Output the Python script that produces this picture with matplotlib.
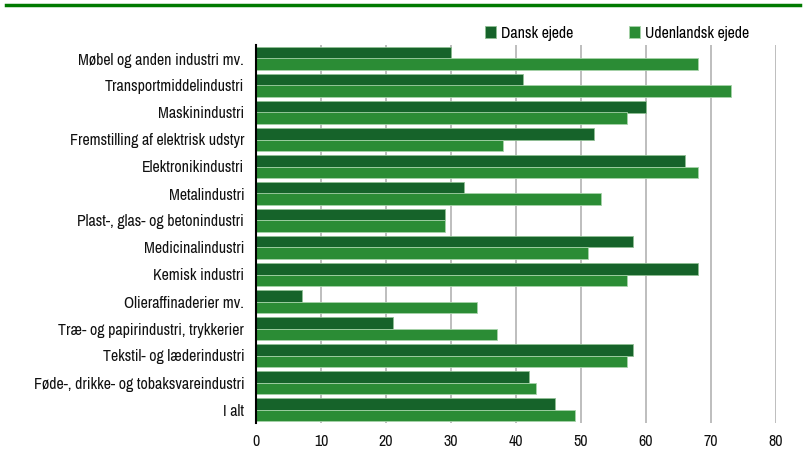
import matplotlib
matplotlib.use("Agg")
import matplotlib.pyplot as plt
import numpy as np
from matplotlib.lines import Line2D
from matplotlib.font_manager import fontManager, FontProperties
from matplotlib.textpath import TextPath

# Data (top to bottom as shown)
categories = [
    "Møbel og anden industri mv.",
    "Transportmiddelindustri",
    "Maskinindustri",
    "Fremstilling af elektrisk udstyr",
    "Elektronikindustri",
    "Metalindustri",
    "Plast-, glas- og betonindustri",
    "Medicinalindustri",
    "Kemisk industri",
    "Olieraffinaderier mv.",
    "Træ- og papirindustri, trykkerier",
    "Tekstil- og læderindustri",
    "Føde-, drikke- og tobaksvareindustri",
    "I alt",
]
dansk = [30, 41, 60, 52, 66, 32, 29, 58, 68, 7, 21, 58, 42, 46]
udenlandsk = [68, 73, 57, 38, 68, 53, 29, 51, 57, 34, 37, 57, 43, 49]
xticks = [0, 10, 20, 30, 40, 50, 60, 70, 80]

# pick a narrow-ish family if one is installed
names = sorted({f.name for f in fontManager.ttflist})
fam = None
for nm in names:
    if "Condensed" in nm or "Narrow" in nm:
        fam = nm
        break
if fam is None:
    fam = "Roboto" if "Roboto" in names else "DejaVu Sans"
plt.rcParams['font.family'] = [fam, 'DejaVu Sans']

# font size so that the longest label is about as wide as in the picture (~208 px)
longest = max(categories, key=len)
w10 = TextPath((0, 0), longest, size=10, prop=FontProperties(family=fam)).get_extents().width
fs = min(11.5, 10 * 208 / (w10 * 100 / 72))

dark = "#16632a"
light = "#2b8c35"

fig = plt.figure(figsize=(8.06, 4.51), dpi=100)
ax = fig.add_axes([256/806, 1-423/451, 520/806, (423-45)/451])

n = len(categories)
y = np.arange(n)[::-1]
h = 0.41
ax.barh(y + h/2, dansk, height=h, color=dark, edgecolor="#8fbf93", linewidth=0.6, label="Dansk ejede", zorder=3)
ax.barh(y - h/2, udenlandsk, height=h, color=light, edgecolor="#a6d3a9", linewidth=0.6, label="Udenlandsk ejede", zorder=3)

ax.set_xlim(0, 80)
ax.set_ylim(-0.5, n - 0.5)
ax.set_xticks(xticks)
ax.set_yticks(y)
ax.set_yticklabels(categories)
ax.tick_params(axis="both", length=0, labelsize=fs, colors="#111111")
ax.tick_params(axis="x", pad=8)
ax.tick_params(axis="y", pad=8.5)
ax.grid(axis="x", color="#b3b3b3", linewidth=1.2, zorder=0)
for s in ["top", "right", "bottom"]:
    ax.spines[s].set_visible(False)
ax.spines["left"].set_color("black")
ax.spines["left"].set_linewidth(1.5)
ax.spines["left"].set_zorder(4)

ax.legend(loc="lower right", bbox_to_anchor=(0.96, 0.995), ncol=2, frameon=False,
          fontsize=fs, handlelength=0.7, handleheight=0.7, handletextpad=0.3,
          columnspacing=3.5, borderaxespad=0)

fig.add_artist(Line2D([6/806, 800/806], [1-5/451, 1-5/451], color="#007a00", linewidth=2.5))

fig.savefig("out.png", dpi=100)
